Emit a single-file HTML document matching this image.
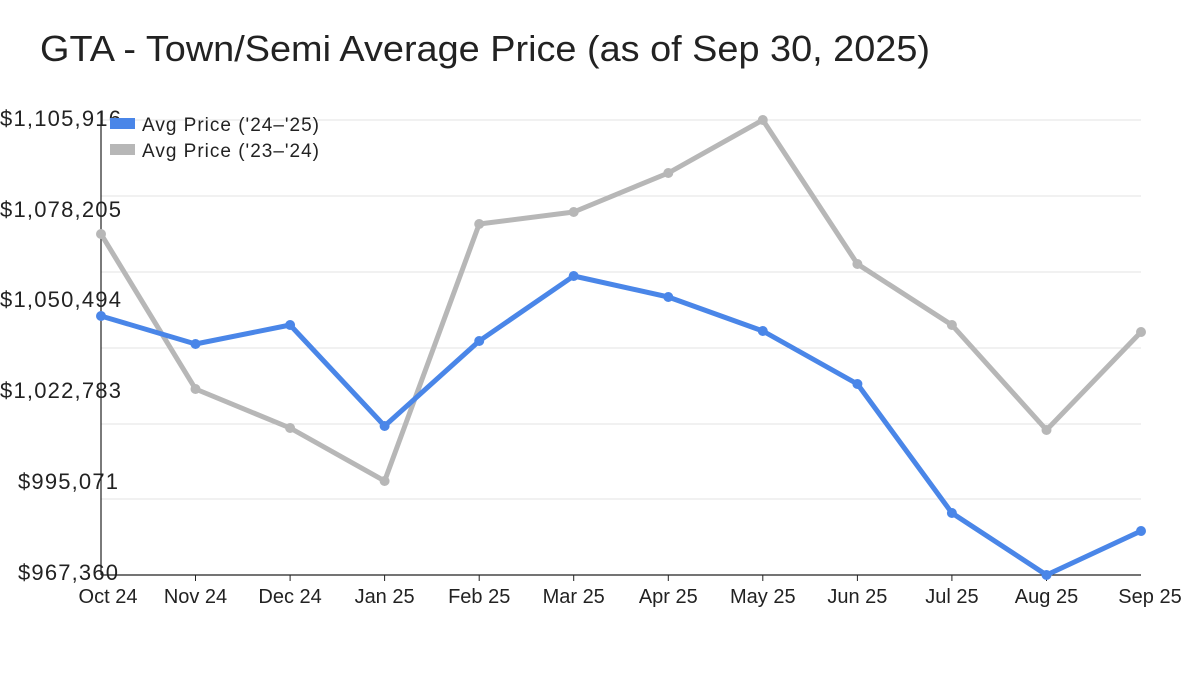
<!DOCTYPE html>
<html><head><meta charset="utf-8"><style>
html,body{margin:0;padding:0;background:#fff;width:1200px;height:675px;overflow:hidden}
text{font-family:"Liberation Sans",sans-serif;fill:#222}
</style></head><body>
<svg width="1200" height="675" xmlns="http://www.w3.org/2000/svg">
<text x="40" y="61" font-size="36" textLength="890" lengthAdjust="spacingAndGlyphs">GTA - Town/Semi Average Price (as of Sep 30, 2025)</text>
<g stroke="#e3e3e3" stroke-width="1">
<line x1="101" x2="1141" y1="120" y2="120"/>
<line x1="101" x2="1141" y1="196" y2="196"/>
<line x1="101" x2="1141" y1="272" y2="272"/>
<line x1="101" x2="1141" y1="348" y2="348"/>
<line x1="101" x2="1141" y1="424" y2="424"/>
<line x1="101" x2="1141" y1="499" y2="499"/>
</g>
<line x1="101" x2="101" y1="112" y2="575" stroke="#222" stroke-width="1.2"/>
<line x1="101" x2="1141" y1="575" y2="575" stroke="#222" stroke-width="1.2"/>
<g stroke="#222" stroke-width="1">
<line x1="195.5" x2="195.5" y1="575" y2="581"/><line x1="290.1" x2="290.1" y1="575" y2="581"/>
<line x1="384.6" x2="384.6" y1="575" y2="581"/><line x1="479.2" x2="479.2" y1="575" y2="581"/>
<line x1="573.7" x2="573.7" y1="575" y2="581"/><line x1="668.3" x2="668.3" y1="575" y2="581"/>
<line x1="762.8" x2="762.8" y1="575" y2="581"/><line x1="857.4" x2="857.4" y1="575" y2="581"/>
<line x1="951.9" x2="951.9" y1="575" y2="581"/><line x1="1046.5" x2="1046.5" y1="575" y2="581"/>
</g>
<g font-size="22" lengthAdjust="spacingAndGlyphs">
<text x="0" y="126" textLength="121">$1,105,916</text>
<text x="0" y="217" textLength="121">$1,078,205</text>
<text x="0" y="307" textLength="121">$1,050,494</text>
<text x="0" y="398" textLength="121">$1,022,783</text>
<text x="18" y="489" textLength="100">$995,071</text>
<text x="18" y="580" textLength="100">$967,360</text>
</g>
<g font-size="20" text-anchor="middle">
<text x="108" y="603">Oct 24</text><text x="195.5" y="603">Nov 24</text><text x="290.1" y="603">Dec 24</text>
<text x="384.6" y="603">Jan 25</text><text x="479.2" y="603">Feb 25</text><text x="573.7" y="603">Mar 25</text>
<text x="668.3" y="603">Apr 25</text><text x="762.8" y="603">May 25</text><text x="857.4" y="603">Jun 25</text>
<text x="951.9" y="603">Jul 25</text><text x="1046.5" y="603">Aug 25</text><text x="1150" y="603">Sep 25</text>
</g>
<g fill="none" stroke-width="5" stroke-linejoin="round">
<polyline stroke="#b7b7b7" points="101,234 195.5,389 290.1,428 384.6,481 479.2,224 573.7,212 668.3,173 762.8,120 857.4,264 951.9,325 1046.5,430 1141,332"/>
<polyline stroke="#4a86e8" points="101,316 195.5,344 290.1,325 384.6,426 479.2,341 573.7,276 668.3,297 762.8,331 857.4,384 951.9,513 1046.5,575 1141,531"/>
</g>
<g fill="#b7b7b7">
<circle cx="101" cy="234" r="5"/><circle cx="195.5" cy="389" r="5"/><circle cx="290.1" cy="428" r="5"/><circle cx="384.6" cy="481" r="5"/><circle cx="479.2" cy="224" r="5"/><circle cx="573.7" cy="212" r="5"/><circle cx="668.3" cy="173" r="5"/><circle cx="762.8" cy="120" r="5"/><circle cx="857.4" cy="264" r="5"/><circle cx="951.9" cy="325" r="5"/><circle cx="1046.5" cy="430" r="5"/><circle cx="1141" cy="332" r="5"/>
</g>
<g fill="#4a86e8">
<circle cx="101" cy="316" r="5"/><circle cx="195.5" cy="344" r="5"/><circle cx="290.1" cy="325" r="5"/><circle cx="384.6" cy="426" r="5"/><circle cx="479.2" cy="341" r="5"/><circle cx="573.7" cy="276" r="5"/><circle cx="668.3" cy="297" r="5"/><circle cx="762.8" cy="331" r="5"/><circle cx="857.4" cy="384" r="5"/><circle cx="951.9" cy="513" r="5"/><circle cx="1046.5" cy="575" r="5"/><circle cx="1141" cy="531" r="5"/>
</g>
<rect x="110" y="118" width="25" height="11" fill="#4a86e8"/>
<rect x="110" y="144" width="25" height="11" fill="#b7b7b7"/>
<g font-size="19" lengthAdjust="spacingAndGlyphs"><text x="142" y="131" textLength="177">Avg Price ('24–'25)</text><text x="142" y="157" textLength="177">Avg Price ('23–'24)</text></g>
</svg>
</body></html>
